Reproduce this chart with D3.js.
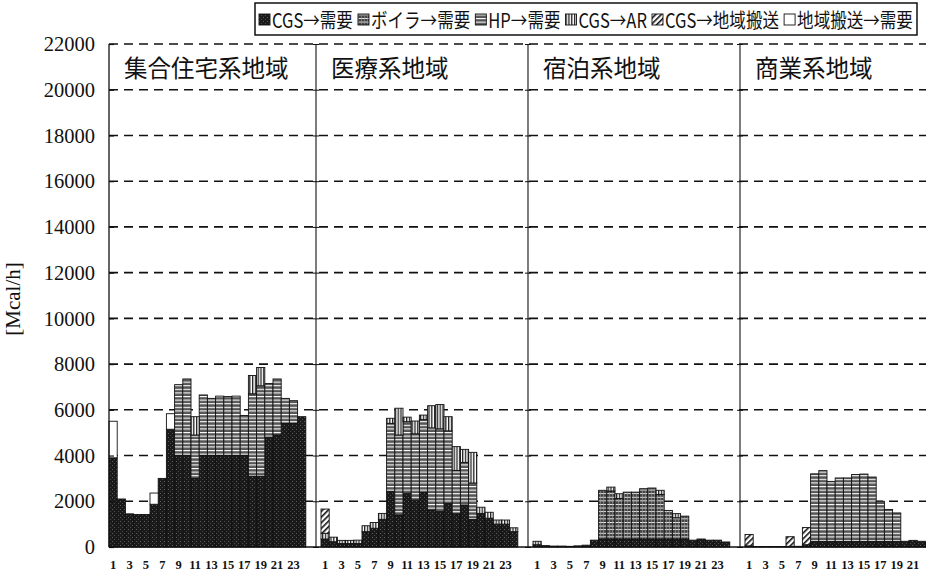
<!DOCTYPE html>
<html><head><meta charset="utf-8">
<script src="https://cdn.jsdelivr.net/npm/d3@7"></script>
<style>body{margin:0;background:#fff;} svg{display:block;}</style>
</head><body><svg id="c" width="926" height="578"></svg>
<script>
// ---------- data ----------
const regions = ['集合住宅系地域', '医療系地域', '宿泊系地域', '商業系地域'];
const hours = d3.range(1, 25);
const xTickHours = [1, 3, 5, 7, 9, 11, 13, 15, 17, 19, 21, 23];
const yTicks = [0, 2000, 4000, 6000, 8000, 10000, 12000, 14000, 16000, 18000, 20000, 22000];
const seriesNames = ['CGS→需要', 'ボイラ→需要', 'HP→需要', 'CGS→AR', 'CGS→地域搬送', '地域搬送→需要'];

// one row per region, 24 hourly values [Mcal/h]
const cgsDemand = [
  [3900, 2100, 1450, 1420, 1420, 1870, 3000, 5150, 4000, 4000, 3000, 4000, 4000, 4000, 4000, 4000, 4000, 3100, 3100, 4800, 4900, 5400, 5400, 5700],
  [350, 230, 150, 150, 150, 670, 820, 1210, 2420, 1400, 2350, 2050, 2380, 1620, 1550, 1910, 1450, 1840, 1200, 1470, 1260, 1000, 1000, 670],
  [100, 60, 40, 40, 30, 50, 80, 300, 350, 350, 350, 350, 350, 350, 350, 350, 350, 350, 350, 300, 350, 300, 300, 220],
  [50, 20, 20, 20, 20, 30, 30, 100, 250, 250, 250, 250, 250, 250, 250, 250, 250, 250, 250, 250, 290, 250, 200, 200]
];
const boilerDemand = [
  [0, 0, 0, 0, 0, 0, 0, 0, 0, 0, 0, 0, 0, 0, 0, 0, 0, 0, 0, 0, 0, 0, 0, 0],
  [0, 0, 0, 0, 0, 0, 0, 0, 0, 0, 0, 0, 0, 0, 0, 0, 0, 0, 0, 0, 0, 0, 0, 0],
  [0, 0, 0, 0, 0, 0, 0, 0, 2130, 2100, 1770, 2050, 2050, 2200, 2230, 1950, 1250, 930, 1000, 0, 0, 0, 0, 0],
  [0, 0, 0, 0, 0, 0, 0, 0, 0, 0, 0, 0, 0, 0, 0, 0, 0, 0, 0, 0, 0, 0, 0, 0]
];
const hpDemand = [
  [0, 0, 0, 0, 0, 0, 0, 0, 3100, 3350, 1900, 2650, 2500, 2600, 2580, 2600, 1750, 3600, 3950, 2350, 2450, 1100, 1000, 0],
  [0, 0, 0, 0, 0, 0, 0, 0, 2990, 3500, 3130, 2900, 3190, 3590, 3620, 3170, 1900, 1860, 1600, 0, 0, 0, 0, 0],
  [0, 0, 0, 0, 0, 0, 0, 0, 0, 0, 0, 0, 0, 0, 0, 0, 0, 0, 0, 0, 0, 0, 0, 0],
  [0, 0, 0, 0, 0, 0, 0, 0, 2950, 3090, 2620, 2770, 2770, 2920, 2940, 2810, 1750, 1390, 1240, 0, 0, 0, 0, 0]
];
const cgsAR = [
  [0, 0, 0, 0, 0, 0, 0, 0, 0, 0, 800, 0, 0, 0, 0, 0, 0, 800, 800, 0, 0, 0, 0, 0],
  [250, 200, 140, 140, 150, 260, 250, 260, 220, 1170, 200, 560, 200, 970, 1060, 620, 1040, 570, 1340, 270, 260, 180, 180, 170],
  [150, 0, 0, 0, 0, 0, 0, 0, 0, 170, 210, 0, 0, 0, 0, 180, 0, 180, 0, 0, 0, 0, 0, 0],
  [0, 0, 0, 0, 0, 0, 0, 0, 0, 0, 0, 0, 0, 0, 0, 0, 0, 0, 0, 0, 0, 0, 0, 0]
];
const cgsTransport = [
  [0, 0, 0, 0, 0, 0, 0, 0, 0, 0, 0, 0, 0, 0, 0, 0, 0, 0, 0, 0, 0, 0, 0, 0],
  [1060, 0, 0, 0, 0, 0, 0, 0, 0, 0, 0, 0, 0, 0, 0, 0, 0, 0, 0, 0, 0, 0, 0, 0],
  [0, 0, 0, 0, 0, 0, 0, 0, 0, 0, 0, 0, 0, 0, 0, 0, 0, 0, 0, 0, 0, 0, 0, 0],
  [500, 0, 0, 0, 0, 420, 0, 750, 0, 0, 0, 0, 0, 0, 0, 0, 0, 0, 0, 0, 0, 0, 0, 0]
];
const transportDemand = [
  [1600, 0, 0, 0, 0, 490, 0, 680, 0, 0, 0, 0, 0, 0, 0, 0, 0, 0, 0, 0, 0, 0, 0, 0],
  [0, 0, 0, 0, 0, 0, 0, 0, 0, 0, 0, 0, 0, 0, 0, 0, 0, 0, 0, 0, 0, 0, 0, 0],
  [0, 0, 0, 0, 0, 0, 0, 0, 0, 0, 0, 0, 0, 0, 0, 0, 0, 0, 0, 0, 0, 0, 0, 0],
  [0, 0, 0, 0, 0, 0, 0, 0, 0, 0, 0, 0, 0, 0, 0, 0, 0, 0, 0, 0, 0, 0, 0, 0]
];

// ---------- build table ----------
const seriesArrays = [cgsDemand, boilerDemand, hpDemand, cgsAR, cgsTransport, transportDemand];
const keys = seriesNames.map((d, i) => 's' + i);
const rows = [];
regions.forEach((r, ri) => hours.forEach((h, hi) => {
  const row = { region: r, hour: h };
  keys.forEach((k, ki) => row[k] = seriesArrays[ki][ri][hi]);
  rows.push(row);
}));
const stacked = d3.stack().keys(keys)(rows);

// ---------- layout ----------
const svg = d3.select('#c');
const W = 926, H = 578;
const plotLeft = 109, plotTop = 44, plotBottom = 547, plotRight = 926;
const panelStep = 212, barsWidth = 24 * 8.2;

const y = d3.scaleLinear().domain([0, 22000]).range([plotBottom, plotTop]);
const x0 = d3.scaleBand().domain(regions).range([plotLeft, plotLeft + panelStep * regions.length]);
const x1 = d3.scaleBand().domain(hours).range([0, barsWidth]).padding(0);
const bx = d => x0(d.data.region) + x1(d.data.hour);

// ---------- patterns ----------
const defs = svg.append('defs');
function pat(id, w, h, draw, tr) {
  const p = defs.append('pattern').attr('id', id).attr('patternUnits', 'userSpaceOnUse')
    .attr('width', w).attr('height', h);
  if (tr) p.attr('patternTransform', tr);
  draw(p);
}
pat('p0', 4, 4, p => {
  p.append('rect').attr('width', 4).attr('height', 4).attr('fill', '#1a1a1a');
  p.append('rect').attr('x', 0).attr('y', 1).attr('width', 1).attr('height', 1).attr('fill', '#5e5e5e');
  p.append('rect').attr('x', 2).attr('y', 3).attr('width', 1).attr('height', 1).attr('fill', '#4a4a4a');
});
pat('p1', 3, 3.6, p => {
  p.append('rect').attr('width', 3).attr('height', 3.6).attr('fill', '#444');
  p.append('rect').attr('width', 3).attr('height', 0.9).attr('fill', '#eee');
  p.append('rect').attr('width', 0.6).attr('height', 3.6).attr('fill', '#999');
});
pat('p2', 4, 3.6, p => {
  p.append('rect').attr('width', 4).attr('height', 3.6).attr('fill', '#555');
  p.append('rect').attr('width', 4).attr('height', 1.1).attr('fill', '#fff');
});
pat('p3', 2.8, 4, p => {
  p.append('rect').attr('width', 2.8).attr('height', 4).attr('fill', '#fff');
  p.append('rect').attr('width', 1.3).attr('height', 4).attr('fill', '#222');
});
pat('p4', 4, 4, p => {
  p.append('rect').attr('width', 4).attr('height', 4).attr('fill', '#fff');
  p.append('rect').attr('width', 1.6).attr('height', 4).attr('fill', '#111');
}, 'rotate(45)');
pat('p5', 4, 4, p => {
  p.append('rect').attr('width', 4).attr('height', 4).attr('fill', '#fff');
});
const fillOf = i => `url(#p${i})`;

// ---------- grid ----------
const g = svg.append('g');
g.selectAll('line.grid').data(yTicks.filter(v => v > 0)).join('line')
  .attr('class', 'grid')
  .attr('x1', plotLeft).attr('x2', plotRight)
  .attr('y1', d => y(d)).attr('y2', d => y(d))
  .attr('stroke', '#111').attr('stroke-width', 1.6).attr('stroke-dasharray', '9,6');

// ---------- bars ----------
stacked.forEach((layer, li) => {
  g.append('g').selectAll('rect').data(layer.filter(d => d[1] - d[0] > 0)).join('rect')
    .attr('x', bx)
    .attr('width', x1.bandwidth())
    .attr('y', d => y(d[1]))
    .attr('height', d => y(d[0]) - y(d[1]))
    .attr('fill', fillOf(li))
    .attr('stroke', '#111').attr('stroke-width', 0.9);
});

// ---------- axes ----------
const yAxisG = svg.append('g').attr('transform', `translate(${plotLeft},0)`)
  .call(d3.axisRight(y).tickValues(yTicks).tickSize(5).tickFormat(''));
yAxisG.select('.domain').attr('stroke', '#111').attr('stroke-width', 1.3).attr('d', `M0,${plotTop}V${plotBottom}`);
yAxisG.selectAll('line').attr('stroke', '#111').attr('stroke-width', 1.2);

svg.append('g').selectAll('text').data(yTicks).join('text')
  .attr('x', 95).attr('y', d => y(d)).attr('dy', '0.35em')
  .attr('text-anchor', 'end')
  .attr('font-family', '"Liberation Serif", "Times New Roman", serif')
  .attr('font-size', 20.5).attr('fill', '#111')
  .text(d => d);

// separators
regions.slice(1).forEach(r => {
  const sx = x0(r) - 5;
  const sg = svg.append('g').attr('transform', `translate(${sx},0)`)
    .call(d3.axisLeft(y).tickValues(yTicks).tickSize(4).tickFormat(''));
  sg.select('.domain').attr('stroke', '#111').attr('stroke-width', 1.1).attr('d', `M0,${plotTop}V${plotBottom}`);
  sg.selectAll('line').attr('stroke', '#111').attr('stroke-width', 1).attr('x2', -3);
  sg.selectAll('.tick').append('line').attr('x2', 3).attr('stroke', '#111').attr('stroke-width', 1);
});

// baseline
svg.append('line').attr('x1', plotLeft).attr('x2', plotRight)
  .attr('y1', y(0)).attr('y2', y(0)).attr('stroke', '#111').attr('stroke-width', 1.4);

// x tick labels (those falling past the right edge are cut off in the original too)
regions.forEach(r => {
  svg.append('g').selectAll('text')
    .data(xTickHours.filter(h => x0(r) + x1(h) + x1.bandwidth() / 2 < W - 10)).join('text')
    .attr('x', h => x0(r) + x1(h) + x1.bandwidth() / 2)
    .attr('y', 569)
    .attr('text-anchor', 'middle')
    .attr('font-family', '"Liberation Serif", "Times New Roman", serif')
    .attr('font-weight', 'bold').attr('font-size', 12.5).attr('fill', '#111')
    .text(h => h);
});

// panel titles
regions.forEach((r, i) => {
  const left = i === 0 ? plotLeft : x0(r) - 5;
  svg.append('text').attr('x', left + 15).attr('y', 77)
    .attr('font-family', '"Noto Sans CJK JP", sans-serif')
    .attr('font-size', 23.5).attr('fill', '#111')
    .text(r);
});

// y title
svg.append('text')
  .attr('transform', `translate(20,299) rotate(-90)`)
  .attr('text-anchor', 'middle')
  .attr('font-family', '"Liberation Serif", "Times New Roman", serif')
  .attr('font-size', 21).attr('fill', '#111')
  .text('[Mcal/h]');

// ---------- legend ----------
const lg = svg.append('g');
const legX = 255, legY = 3, legW = 662, legH = 32;
lg.append('rect').attr('x', legX).attr('y', legY).attr('width', legW).attr('height', legH)
  .attr('fill', '#fff').attr('stroke', '#111').attr('stroke-width', 1.5);
const items = [];
seriesNames.forEach((name, i) => {
  const it = lg.append('g');
  it.append('rect').attr('x', 0).attr('y', 14).attr('width', 11).attr('height', 11)
    .attr('fill', fillOf(i)).attr('stroke', '#111').attr('stroke-width', 0.9);
  const t = it.append('text').attr('x', 0).attr('y', 28)
    .attr('font-family', '"Noto Sans CJK JP", sans-serif')
    .attr('font-size', 20).attr('fill', '#111').text(name);
  items.push({ it, t, tw: t.node().getComputedTextLength() });
});
const iconW = 13, gapT = 5;
const avail = legW - 8 - items.length * iconW - (items.length - 1) * gapT;
const sx = Math.min(1, avail / d3.sum(items, d => d.tw));
let cx = legX + 4;
items.forEach(d => {
  d.t.attr('transform', `translate(${iconW},0) scale(${sx},1)`);
  d.it.attr('transform', `translate(${cx},0)`);
  cx += iconW + d.tw * sx + gapT;
});
</script></body></html>
